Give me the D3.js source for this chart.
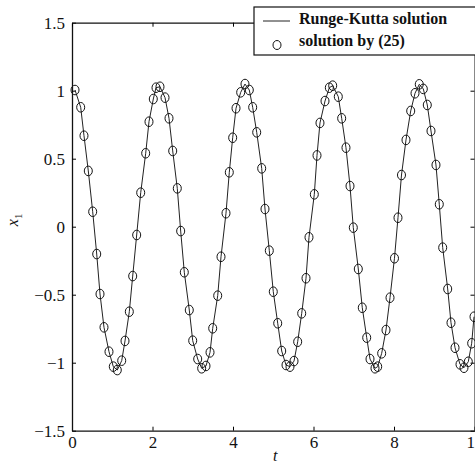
<!DOCTYPE html>
<html>
<head>
<meta charset="utf-8">
<script src="https://cdn.jsdelivr.net/npm/d3@7"></script>
<style>
  body { margin: 0; background: #fff; }
  svg { display: block; }
  text { font-family: "Liberation Serif", "Times New Roman", serif; fill: #111; }
</style>
</head>
<body>
<div id="graph"></div>
<script>
// time samples (both series share them)
var tValues = [0.075, 0.216, 0.298, 0.405, 0.514, 0.614, 0.696, 0.795, 0.919, 1.026,
    1.125, 1.235, 1.317, 1.424, 1.508, 1.607, 1.707, 1.831, 1.913, 2.020,
    2.087, 2.186, 2.311, 2.410, 2.502, 2.616, 2.700, 2.790, 2.914, 2.999,
    3.123, 3.222, 3.329, 3.429, 3.496, 3.620, 3.702, 3.826, 3.908, 3.992,
    4.075, 4.191, 4.298, 4.405, 4.489, 4.589, 4.713, 4.795, 4.902, 5.001,
    5.111, 5.210, 5.317, 5.416, 5.516, 5.607, 5.707, 5.814, 5.888, 6.020,
    6.087, 6.161, 6.286, 6.393, 6.477, 6.616, 6.700, 6.807, 6.907, 6.989,
    7.113, 7.212, 7.322, 7.404, 7.528, 7.595, 7.694, 7.801, 7.901, 8.012,
    8.099, 8.186, 8.298, 8.415, 8.522, 8.628, 8.728, 8.827, 8.919, 9.043,
    9.125, 9.210, 9.334, 9.416, 9.516, 9.640, 9.739, 9.846, 9.930, 9.988];

// x1 values (the Runge-Kutta line and the circles coincide at this scale)
var x1Values = [1.005, 0.878, 0.669, 0.410, 0.110, -0.201, -0.495, -0.740, -0.919, -1.029,
    -1.054, -0.985, -0.840, -0.625, -0.363, -0.061, 0.250, 0.540, 0.772, 0.939,
    1.022, 1.029, 0.949, 0.797, 0.557, 0.282, -0.032, -0.335, -0.613, -0.838,
    -0.973, -1.041, -1.024, -0.924, -0.747, -0.507, -0.221, 0.099, 0.400, 0.654,
    0.871, 0.988, 1.049, 1.005, 0.878, 0.694, 0.429, 0.130, -0.176, -0.478,
    -0.710, -0.914, -1.017, -1.029, -0.988, -0.846, -0.637, -0.379, -0.078, 0.238,
    0.524, 0.763, 0.924, 1.022, 1.037, 0.956, 0.797, 0.581, 0.299, -0.007,
    -0.311, -0.596, -0.816, -0.973, -1.041, -1.029, -0.931, -0.760, -0.522, -0.232,
    0.066, 0.380, 0.638, 0.851, 0.981, 1.047, 1.013, 0.895, 0.704, 0.454,
    0.165, -0.154, -0.458, -0.706, -0.890, -1.012, -1.037, -0.993, -0.857, -0.662];

var xTicks = [0, 2, 4, 6, 8, 10];
var yTicks = [-1.5, -1, -0.5, 0, 0.5, 1, 1.5];
var legendLabels = ["Runge-Kutta solution", "solution by (25)"];

var W = 475, H = 469;
var pLeft = 72, pRight = 474.5, pTop = 22.7, pBottom = 430.7;

var data = tValues.map(function(t, i) { return {t: t, v: x1Values[i]}; });

var x = d3.scaleLinear().domain([0, 10]).range([pLeft, pRight]);
var y = d3.scaleLinear().domain([-1.5, 1.5]).range([pBottom, pTop]);

var fmt = function(d) { return (d < 0 ? "\u2212" : "") + Math.abs(d); };

var svg = d3.select("#graph").append("svg")
    .attr("width", W)
    .attr("height", H);

// axes box, ticks pointing in
svg.append("g")
    .attr("transform", "translate(0," + pBottom + ")")
    .call(d3.axisBottom(x).tickValues(xTicks).tickFormat(fmt).tickSizeInner(-4).tickSizeOuter(0).tickPadding(5))
    .call(function(g) {
        g.select(".domain").attr("stroke", "#111").attr("stroke-width", 1.3);
        g.selectAll("text").style("font-size", "17px").attr("fill", "#111");
    });

svg.append("g")
    .attr("transform", "translate(" + pLeft + ",0)")
    .call(d3.axisLeft(y).tickValues(yTicks).tickFormat(fmt).tickSizeInner(-4).tickSizeOuter(0).tickPadding(7))
    .call(function(g) {
        g.select(".domain").attr("stroke", "#111").attr("stroke-width", 1.3);
        g.selectAll("text").style("font-size", "17px").attr("fill", "#111");
    });

svg.append("g")
    .attr("transform", "translate(" + pRight + ",0)")
    .call(d3.axisRight(y).tickValues(yTicks).tickFormat("").tickSizeInner(-4).tickSizeOuter(0))
    .select(".domain").attr("stroke", "#111");

svg.append("g")
    .attr("transform", "translate(0," + pTop + ")")
    .call(d3.axisTop(x).tickValues(xTicks).tickFormat("").tickSizeInner(-4).tickSizeOuter(0))
    .select(".domain").attr("stroke", "#111").attr("stroke-width", 1.3);

// axis titles
svg.append("text")
    .attr("x", x(5.05))
    .attr("y", 461)
    .attr("text-anchor", "middle")
    .style("font-size", "16px")
    .style("font-style", "italic")
    .text("t");

var yl = svg.append("text")
    .attr("transform", "translate(18," + y(0.05) + ") rotate(-90)")
    .attr("text-anchor", "middle")
    .style("font-size", "16px")
    .style("font-style", "italic");
yl.append("tspan").text("x");
yl.append("tspan").attr("dy", 4).style("font-size", "11px").style("font-style", "normal").text("1");

// Runge-Kutta line
var line = d3.line()
    .x(function(d) { return x(d.t); })
    .y(function(d) { return y(d.v); });

svg.append("path")
    .datum(data)
    .attr("fill", "none")
    .attr("stroke", "#222")
    .attr("stroke-width", 1)
    .attr("d", line);

// solution by (25)
svg.selectAll(".pt")
    .data(data)
    .enter().append("ellipse")
    .attr("class", "pt")
    .attr("cx", function(d) { return x(d.t); })
    .attr("cy", function(d) { return y(d.v); })
    .attr("rx", 4)
    .attr("ry", 4.8)
    .attr("fill", "none")
    .attr("stroke", "#111")
    .attr("stroke-width", 1);

// legend
var lg = svg.append("g");
lg.append("rect")
    .attr("x", 254).attr("y", 7)
    .attr("width", 240).attr("height", 48)
    .attr("fill", "#fff")
    .attr("stroke", "#111")
    .attr("stroke-width", 1.2);
lg.append("line")
    .attr("x1", 263).attr("x2", 290)
    .attr("y1", 21).attr("y2", 21)
    .attr("stroke", "#222");
lg.append("ellipse")
    .attr("cx", 277).attr("cy", 45)
    .attr("rx", 4).attr("ry", 4.5)
    .attr("fill", "none").attr("stroke", "#111");
lg.selectAll(".lt")
    .data(legendLabels)
    .enter().append("text")
    .attr("class", "lt")
    .attr("x", 299)
    .attr("y", function(d, i) { return 24 + i * 22; })
    .style("font-size", "16px")
    .style("font-weight", "bold")
    .text(function(d) { return d; });
</script>
</body>
</html>
